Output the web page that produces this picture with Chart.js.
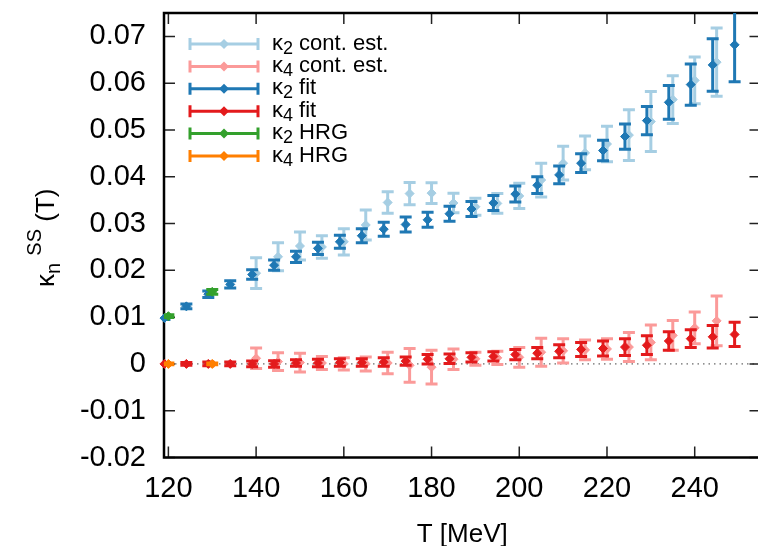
<!DOCTYPE html>
<html lang="en">
<head>
    <meta charset="UTF-8">
    <title>kappa SS</title>
    <style>
        html, body {
            margin: 0;
            padding: 0;
            background: #fff;
            overflow: hidden;
        }
        canvas {
            display: block;
        }
    </style>
    <script src="https://cdn.jsdelivr.net/npm/chart.js"></script>
</head>
<body>
<canvas id="kappaChart" width="766" height="546"></canvas>
<script>
    // temperatures (MeV)
    const temps = [120, 125, 130, 135, 140, 145, 150, 155, 160, 165, 170, 175, 180, 185,
                   190, 195, 200, 205, 210, 215, 220, 225, 230, 235, 240, 245, 250];
    const tempsCont = [140, 145, 150, 155, 160, 165, 170, 175, 180, 185, 190,
                       195, 200, 205, 210, 215, 220, 225, 230, 235, 240, 245];
    const tempsHrg = [120, 130];

    // fit points are shifted a little to the left so the bars don't overlap
    const FIT_SHIFT = -0.9;

    const kappa2Cont = [0.0194, 0.0229, 0.0252, 0.0250, 0.0261, 0.0297, 0.0345, 0.0364, 0.0365, 0.0344, 0.0336,
                        0.0343, 0.0359, 0.0393, 0.0429, 0.0451, 0.0470, 0.0489, 0.0518, 0.0565, 0.0606, 0.0645];
    const kappa2ContErr = [0.0033, 0.0030, 0.0030, 0.0024, 0.0028, 0.0032, 0.0023, 0.0024, 0.0022, 0.0021, 0.0018,
                           0.0021, 0.0027, 0.0036, 0.0036, 0.0036, 0.0038, 0.0054, 0.0064, 0.0051, 0.0050, 0.0073];

    const kappa4Cont = [0.0012, 0.0005, 0.0003, 0.0002, 0.0000, 0.0000, 0.0002, -0.0003, -0.0007, 0.0010, 0.0011,
                        0.0013, 0.0014, 0.0025, 0.0028, 0.0030, 0.0032, 0.0036, 0.0046, 0.0061, 0.0077, 0.0092];
    const kappa4ContErr = [0.0022, 0.0019, 0.0020, 0.0014, 0.0013, 0.0015, 0.0023, 0.0036, 0.0036, 0.0022, 0.0014,
                           0.0014, 0.0021, 0.0030, 0.0026, 0.0021, 0.0022, 0.0031, 0.0037, 0.0032, 0.0034, 0.0053];

    const kappa2Fit = [0.0098, 0.0123, 0.0149, 0.0170, 0.0191, 0.0211, 0.0229, 0.0247, 0.0261, 0.0274, 0.0288, 0.0298, 0.0308, 0.0321,
                       0.0331, 0.0344, 0.0363, 0.0382, 0.0404, 0.0429, 0.0456, 0.0486, 0.0520, 0.0559, 0.0597, 0.0639, 0.0682];
    const kappa2FitErr = [0.0003, 0.0005, 0.0007, 0.0008, 0.0010, 0.0011, 0.0012, 0.0013, 0.0014, 0.0015, 0.0015, 0.0016, 0.0016, 0.0016,
                          0.0016, 0.0016, 0.0017, 0.0018, 0.0019, 0.0020, 0.0022, 0.0027, 0.0030, 0.0036, 0.0044, 0.0056, 0.0079];

    const kappa4Fit = [0.0000, 0.0000, 0.0000, 0.0000, 0.0000, 0.0000, 0.0002, 0.0002, 0.0003, 0.0003, 0.0004, 0.0006, 0.0010, 0.0011,
                       0.0014, 0.0016, 0.0020, 0.0023, 0.0027, 0.0031, 0.0033, 0.0036, 0.0040, 0.0049, 0.0054, 0.0058, 0.0063];
    const kappa4FitErr = [0.0003, 0.0003, 0.0004, 0.0004, 0.0006, 0.0007, 0.0007, 0.0008, 0.0008, 0.0008, 0.0009, 0.0009, 0.0010, 0.0010,
                          0.0010, 0.0010, 0.0011, 0.0012, 0.0014, 0.0015, 0.0016, 0.0018, 0.0020, 0.0020, 0.0019, 0.0024, 0.0026];

    const kappa2Hrg = [0.0102, 0.0154];
    const kappa2HrgErr = [0.0003, 0.0005];
    const kappa4Hrg = [0.0000, 0.0000];
    const kappa4HrgErr = [0.0002, 0.0002];

    const xTicks = [120, 140, 160, 180, 200, 220, 240];

    const FONT = "'Liberation Sans', Arial, Helvetica, sans-serif";

    function points(xs, ys, shift) {
        return xs.map((x, i) => ({ x: x + shift, y: ys[i] }));
    }

    function series(label, xs, ys, errs, shift, color, order) {
        return {
            label: label,
            data: points(xs, ys, shift),
            errors: errs,
            showLine: false,
            pointStyle: 'rectRot',
            pointRadius: 4.5,
            pointBorderWidth: 1,
            pointBackgroundColor: color,
            pointBorderColor: color,
            borderColor: color,
            backgroundColor: color,
            clip: false,
            order: order
        };
    }

    // vertical error bars with caps, drawn right after each dataset
    const errorBars = {
        id: 'errorBars',
        afterDatasetDraw(chart, args) {
            const ds = chart.data.datasets[args.index];
            if (!ds.errors) return;
            const yScale = chart.scales.y;
            const { ctx, chartArea } = chart;
            ctx.save();
            ctx.beginPath();
            ctx.rect(chartArea.left, chartArea.top, chartArea.width, chartArea.height);
            ctx.clip();
            ctx.strokeStyle = ds.borderColor;
            ctx.lineWidth = 3;
            args.meta.data.forEach((pt, i) => {
                const v = ds.data[i].y;
                const e = ds.errors[i];
                const top = yScale.getPixelForValue(v + e);
                const bot = yScale.getPixelForValue(v - e);
                ctx.beginPath();
                ctx.moveTo(pt.x, top);
                ctx.lineTo(pt.x, bot);
                ctx.moveTo(pt.x - 6, top);
                ctx.lineTo(pt.x + 6, top);
                ctx.moveTo(pt.x - 6, bot);
                ctx.lineTo(pt.x + 6, bot);
                ctx.stroke();
            });
            ctx.restore();
        }
    };

    // frame, inward ticks on all four sides, dotted zero line
    const frame = {
        id: 'frame',
        beforeDatasetsDraw(chart) {
            const { ctx, chartArea: a, scales } = chart;
            ctx.save();

            const y0 = scales.y.getPixelForValue(0);
            ctx.strokeStyle = '#444';
            ctx.lineWidth = 1;
            ctx.setLineDash([1.5, 4]);
            ctx.beginPath();
            ctx.moveTo(a.left, y0);
            ctx.lineTo(a.right, y0);
            ctx.stroke();
            ctx.setLineDash([]);

            ctx.strokeStyle = '#222';
            ctx.lineWidth = 1.5;
            ctx.beginPath();
            scales.y.ticks.forEach(t => {
                const py = scales.y.getPixelForValue(t.value);
                ctx.moveTo(a.left, py);
                ctx.lineTo(a.left + 11, py);
                ctx.moveTo(a.right, py);
                ctx.lineTo(a.right - 11, py);
            });
            scales.x.ticks.forEach(t => {
                const px = scales.x.getPixelForValue(t.value);
                ctx.moveTo(px, a.bottom);
                ctx.lineTo(px, a.bottom - 11);
                ctx.moveTo(px, a.top);
                ctx.lineTo(px, a.top + 11);
            });
            ctx.stroke();

            ctx.strokeStyle = '#000';
            ctx.lineWidth = 2.5;
            ctx.strokeRect(a.left, a.top, a.width, a.height);
            ctx.restore();
        },
        afterDraw(chart) {
            const { ctx, chartArea: a } = chart;
            ctx.save();
            ctx.fillStyle = '#000';

            // x axis title
            ctx.font = '26px ' + FONT;
            ctx.textAlign = 'center';
            ctx.textBaseline = 'alphabetic';
            ctx.fillText('T [MeV]', (a.left + a.right) / 2, 542);

            // y axis title: kappa_n^SS (T), rotated
            ctx.translate(54, 287);
            ctx.rotate(-Math.PI / 2);
            ctx.textAlign = 'left';
            let x = 0;
            ctx.font = '26px ' + FONT;
            ctx.fillText('κ', x, 0);
            x += ctx.measureText('κ').width;
            ctx.font = '20px ' + FONT;
            ctx.fillText('n', x, 6);
            x += ctx.measureText('n').width;
            ctx.font = '26px ' + FONT;
            x += ctx.measureText(' ').width;
            ctx.font = '20px ' + FONT;
            ctx.fillText('SS', x, -13);
            x += ctx.measureText('SS').width;
            ctx.font = '26px ' + FONT;
            ctx.fillText(' (T)', x, 0);
            ctx.restore();

            // key, top left inside the plot
            ctx.save();
            chart.data.datasets.forEach((ds, i) => {
                const ry = 44 + i * 22.4;
                ctx.strokeStyle = ds.borderColor;
                ctx.fillStyle = ds.borderColor;
                ctx.lineWidth = 3;
                ctx.beginPath();
                ctx.moveTo(190, ry);
                ctx.lineTo(258, ry);
                ctx.moveTo(190, ry - 6);
                ctx.lineTo(190, ry + 6);
                ctx.moveTo(258, ry - 6);
                ctx.lineTo(258, ry + 6);
                ctx.stroke();
                ctx.beginPath();
                ctx.moveTo(224, ry - 5);
                ctx.lineTo(229, ry);
                ctx.lineTo(224, ry + 5);
                ctx.lineTo(219, ry);
                ctx.closePath();
                ctx.fill();

                const m = ds.label.match(/^(.)_(\w)(.*)$/);
                ctx.fillStyle = '#000';
                ctx.textBaseline = 'alphabetic';
                ctx.textAlign = 'left';
                let tx = 272;
                ctx.font = '22px ' + FONT;
                ctx.fillText(m[1], tx, ry + 5.5);
                tx += ctx.measureText(m[1]).width;
                ctx.font = '18px ' + FONT;
                ctx.fillText(m[2], tx, ry + 9.5);
                tx += ctx.measureText(m[2]).width;
                ctx.font = '22px ' + FONT;
                ctx.fillText(m[3], tx, ry + 5.5);
            });
            ctx.restore();
        }
    };

    const ctx = document.getElementById('kappaChart').getContext('2d');

    new Chart(ctx, {
        type: 'scatter',
        data: {
            datasets: [
                series('κ_2 cont. est.', tempsCont, kappa2Cont, kappa2ContErr, 0, '#a6cee3', 3),
                series('κ_4 cont. est.', tempsCont, kappa4Cont, kappa4ContErr, 0, '#fb9a99', 3),
                series('κ_2 fit', temps, kappa2Fit, kappa2FitErr, FIT_SHIFT, '#1f78b4', 2),
                series('κ_4 fit', temps, kappa4Fit, kappa4FitErr, FIT_SHIFT, '#e31a1c', 2),
                series('κ_2 HRG', tempsHrg, kappa2Hrg, kappa2HrgErr, 0, '#33a02c', 1),
                series('κ_4 HRG', tempsHrg, kappa4Hrg, kappa4HrgErr, 0, '#ff7f00', 1)
            ]
        },
        options: {
            responsive: false,
            animation: false,
            events: [],
            layout: {
                padding: { left: 0, right: 2, top: 13, bottom: 0 }
            },
            plugins: {
                legend: { display: false },
                tooltip: { enabled: false }
            },
            scales: {
                x: {
                    type: 'linear',
                    min: 119,
                    max: 255,
                    afterBuildTicks: scale => {
                        scale.ticks = xTicks.map(v => ({ value: v }));
                    },
                    afterFit: scale => {
                        scale.height = 88.5;
                        scale.paddingLeft = 0;
                        scale.paddingRight = 0;
                    },
                    grid: { display: false, drawTicks: false },
                    border: { display: false },
                    ticks: {
                        color: '#000',
                        font: { family: FONT, size: 29 },
                        padding: 14,
                        maxRotation: 0,
                        callback: v => String(v)
                    }
                },
                y: {
                    min: -0.02,
                    max: 0.075,
                    afterFit: scale => {
                        scale.width = 164;
                        scale.paddingTop = 0;
                        scale.paddingBottom = 0;
                    },
                    grid: { display: false, drawTicks: false },
                    border: { display: false },
                    ticks: {
                        stepSize: 0.01,
                        includeBounds: false,
                        color: '#000',
                        font: { family: FONT, size: 29 },
                        padding: 18,
                        callback: v => Math.abs(v) < 1e-9 ? '0' : v.toFixed(2)
                    }
                }
            }
        },
        plugins: [errorBars, frame]
    });
</script>
</body>
</html>
